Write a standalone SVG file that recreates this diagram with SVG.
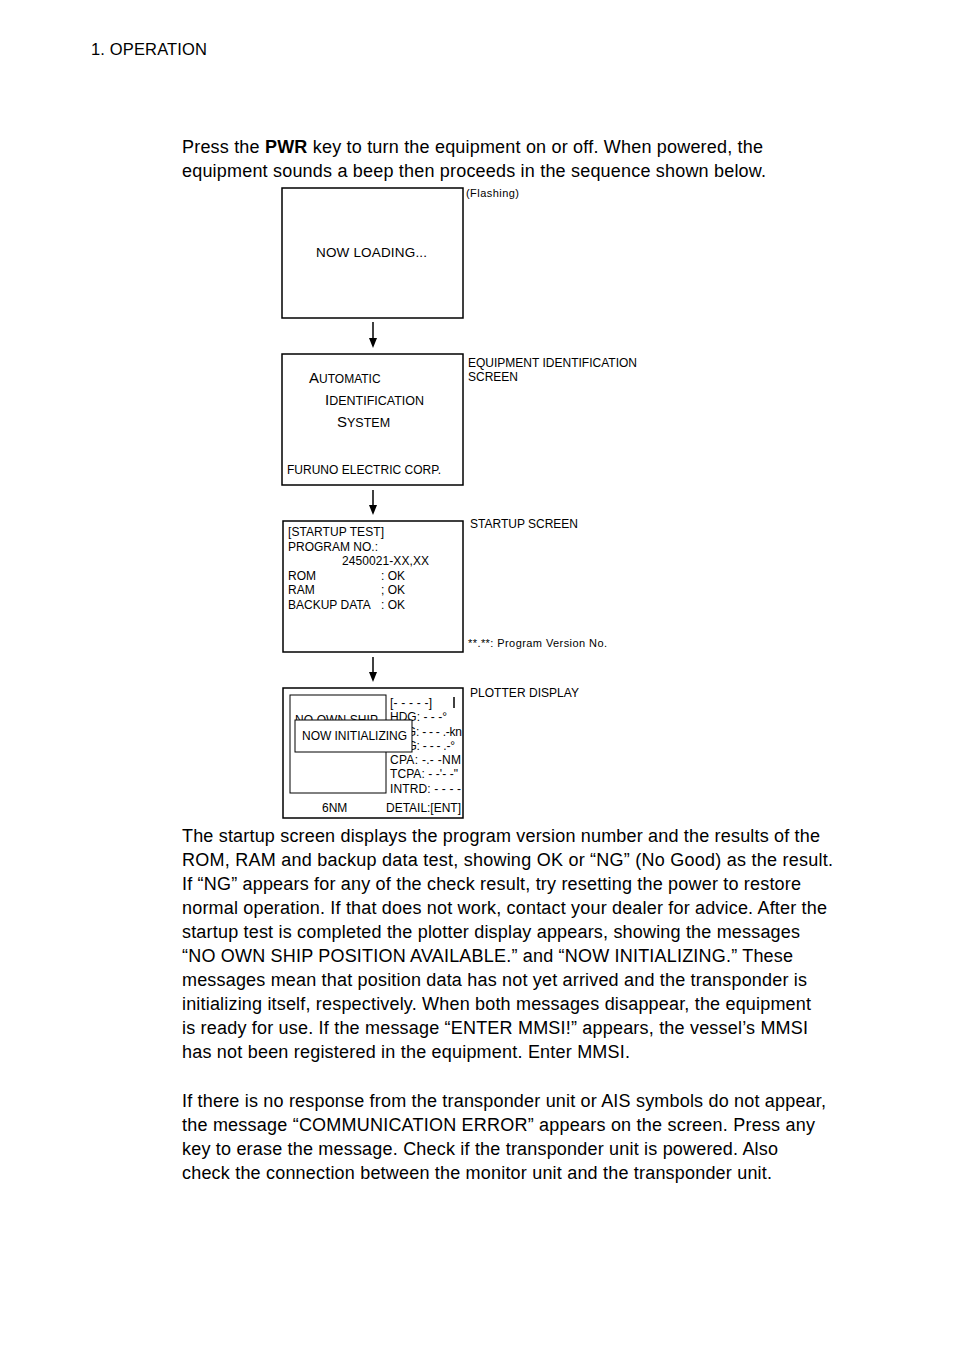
<svg xmlns="http://www.w3.org/2000/svg" width="954" height="1350" viewBox="0 0 954 1350">
<style>
.b{font-family:"Liberation Sans",Arial,sans-serif;font-size:18px;fill:#000}
.s{font-family:"Liberation Sans",Arial,sans-serif;font-size:12px;fill:#000}
.scr{fill:#fff;stroke:#000;stroke-width:1.5}
.ln{stroke:#000;stroke-width:1.5;fill:none}
</style>
<defs>
<clipPath id="behind">
<path d="M386,690 L386,720 L412,720 L412,752 L386,752 L386,800 L466,800 L466,690 Z"/>
</clipPath>
<clipPath id="behindL">
<rect x="285" y="690" width="100" height="30"/>
</clipPath>
</defs>
<rect width="954" height="1350" fill="#fff"/>
<text class="b" x="91" y="55" style="font-size:16.5px" textLength="116">1. OPERATION</text>
<text class="b" x="182" y="153" textLength="581">Press the <tspan font-weight="bold">PWR</tspan> key to turn the equipment on or off. When powered, the</text>
<text class="b" x="182" y="177" textLength="584">equipment sounds a beep then proceeds in the sequence shown below.</text>

<g id="connectors">
<line class="ln" x1="373" y1="322" x2="373" y2="338"/>
<path d="M369,338 L377,338 L373,348 Z" fill="#000"/>
<line class="ln" x1="373" y1="490" x2="373" y2="505"/>
<path d="M369,505 L377,505 L373,515 Z" fill="#000"/>
<line class="ln" x1="373" y1="657" x2="373" y2="672"/>
<path d="M369,672 L377,672 L373,682 Z" fill="#000"/>
</g>

<g id="node-loading">
<rect class="scr" x="282" y="188" width="181" height="130"/>
<text class="s" x="316" y="257" style="font-size:13.5px" textLength="111">NOW LOADING...</text>
<text class="s" x="466" y="197" style="font-size:11px" textLength="53">(Flashing)</text>
</g>

<g id="node-ident">
<rect class="scr" x="282" y="354" width="181" height="131"/>
<text class="s" x="309" y="383"><tspan style="font-size:15px">A</tspan><tspan style="font-size:12px">UTOMATIC</tspan></text>
<text class="s" x="325" y="405"><tspan style="font-size:15px">I</tspan><tspan style="font-size:12.5px">DENTIFICATION</tspan></text>
<text class="s" x="337" y="427"><tspan style="font-size:15px">S</tspan><tspan style="font-size:12.5px">YSTEM</tspan></text>
<text class="s" x="287" y="474" textLength="154">FURUNO ELECTRIC CORP.</text>
<text class="s" x="468" y="367" textLength="169">EQUIPMENT IDENTIFICATION</text>
<text class="s" x="468" y="381">SCREEN</text>
</g>

<g id="node-startup">
<rect class="scr" x="283" y="521" width="180" height="131"/>
<text class="s" x="288" y="536" textLength="96">[STARTUP TEST]</text>
<text class="s" x="288" y="551">PROGRAM NO.:</text>
<text class="s" x="342" y="565" textLength="87">2450021-XX,XX</text>
<text class="s" x="288" y="580">ROM</text>
<text class="s" x="381" y="580">: OK</text>
<text class="s" x="288" y="594">RAM</text>
<text class="s" x="381" y="594">; OK</text>
<text class="s" x="288" y="609">BACKUP DATA</text>
<text class="s" x="381" y="609">: OK</text>
<text class="s" x="470" y="528" textLength="108">STARTUP SCREEN</text>
<text class="s" x="468" y="647" style="font-size:11px" textLength="139">**.**: Program Version No.</text>
</g>

<g id="node-plotter">
<rect class="scr" x="283" y="688" width="180" height="130"/>
<rect x="290" y="695" width="96" height="98" fill="none" stroke="#000" stroke-width="1"/>
<text class="s" x="295" y="724" textLength="83" clip-path="url(#behindL)">NO OWN SHIP</text>
<text class="s" x="390" y="707" textLength="42">[- - - - -]</text>
<line x1="454" y1="697" x2="454" y2="708" stroke="#000" stroke-width="1.5"/>
<text class="s" x="390" y="721" textLength="57">HDG: - - -°</text>
<text class="s" x="390" y="736" textLength="72" clip-path="url(#behind)">SOG: - - - .-kn</text>
<text class="s" x="390" y="750" textLength="65" clip-path="url(#behind)">COG: - - - .-°</text>
<text class="s" x="390" y="764" textLength="71">CPA:  -.- -NM</text>
<text class="s" x="390" y="778" textLength="68">TCPA: - -'- -"</text>
<text class="s" x="390" y="793" textLength="71">INTRD: - - - -</text>
<rect x="295" y="720" width="117" height="32" fill="#fff" stroke="#000" stroke-width="1"/>
<text class="s" x="302" y="740" textLength="105">NOW INITIALIZING</text>
<text class="s" x="322" y="812">6NM</text>
<text class="s" x="386" y="812" textLength="75">DETAIL:[ENT]</text>
<text class="s" x="470" y="697" textLength="109">PLOTTER DISPLAY</text>
</g>

<g id="body-text">
<text class="b" x="182" y="842" textLength="638">The startup screen displays the program version number and the results of the</text>
<text class="b" x="182" y="866" textLength="651">ROM, RAM and backup data test, showing OK or “NG” (No Good) as the result.</text>
<text class="b" x="182" y="890" textLength="619">If “NG” appears for any of the check result, try resetting the power to restore</text>
<text class="b" x="182" y="914" textLength="645">normal operation. If that does not work, contact your dealer for advice. After the</text>
<text class="b" x="182" y="938" textLength="618">startup test is completed the plotter display appears, showing the messages</text>
<text class="b" x="182" y="962" textLength="611">“NO OWN SHIP POSITION AVAILABLE.” and “NOW INITIALIZING.” These</text>
<text class="b" x="182" y="986" textLength="625">messages mean that position data has not yet arrived and the transponder is</text>
<text class="b" x="182" y="1010" textLength="629">initializing itself, respectively. When both messages disappear, the equipment</text>
<text class="b" x="182" y="1034" textLength="626">is ready for use. If the message “ENTER MMSI!” appears, the vessel’s MMSI</text>
<text class="b" x="182" y="1058" textLength="448">has not been registered in the equipment. Enter MMSI.</text>
<text class="b" x="182" y="1107" textLength="644">If there is no response from the transponder unit or AIS symbols do not appear,</text>
<text class="b" x="182" y="1131" textLength="633">the message “COMMUNICATION ERROR” appears on the screen. Press any</text>
<text class="b" x="182" y="1155" textLength="596">key to erase the message. Check if the transponder unit is powered. Also</text>
<text class="b" x="182" y="1179" textLength="590">check the connection between the monitor unit and the transponder unit.</text>
</g>
</svg>
